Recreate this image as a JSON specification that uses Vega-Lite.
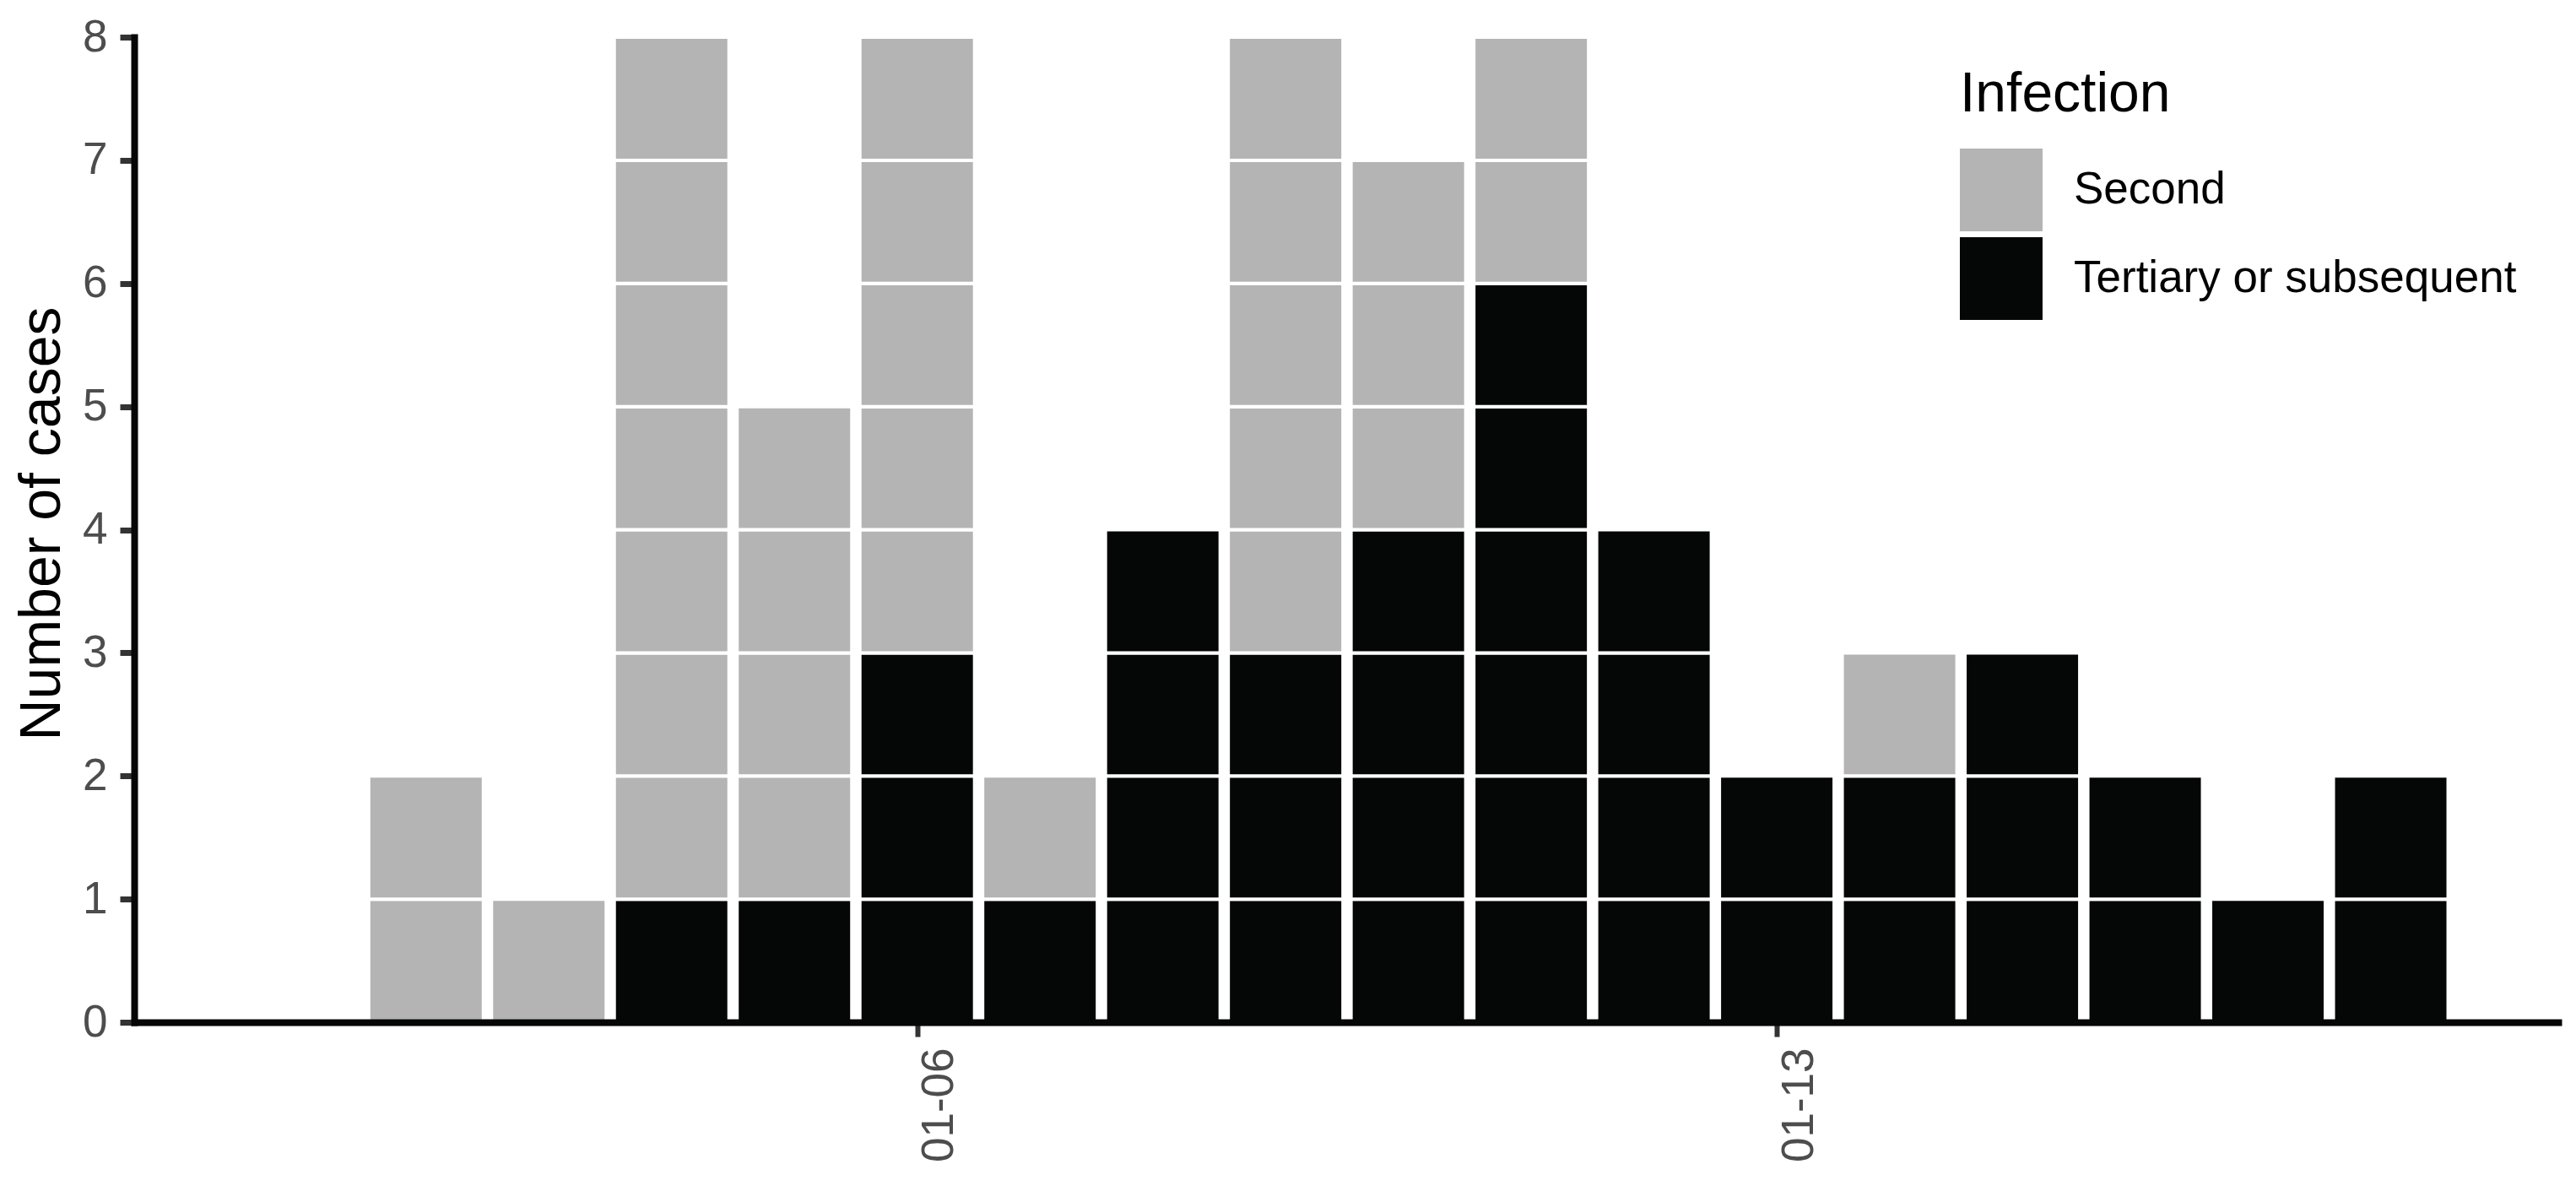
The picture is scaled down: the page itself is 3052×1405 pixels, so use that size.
{
  "$schema": "https://vega.github.io/schema/vega-lite/v6.json",
  "autosize": {"type": "none"},
  "padding": {"left": 159, "top": 44, "right": 21, "bottom": 194},
  "width": 2872,
  "height": 1167,
  "background": "white",
  "config": {
    "font": "Liberation Sans",
    "view": {"stroke": null},
    "axis": {"grid": false}
  },
  "data": {
    "values": [
      {"date": "2020-01-02", "infection": "Second", "n": 1},
      {"date": "2020-01-02", "infection": "Second", "n": 1},
      {"date": "2020-01-03", "infection": "Second", "n": 1},
      {"date": "2020-01-04", "infection": "Tertiary or subsequent", "n": 1},
      {"date": "2020-01-04", "infection": "Second", "n": 1},
      {"date": "2020-01-04", "infection": "Second", "n": 1},
      {"date": "2020-01-04", "infection": "Second", "n": 1},
      {"date": "2020-01-04", "infection": "Second", "n": 1},
      {"date": "2020-01-04", "infection": "Second", "n": 1},
      {"date": "2020-01-04", "infection": "Second", "n": 1},
      {"date": "2020-01-04", "infection": "Second", "n": 1},
      {"date": "2020-01-05", "infection": "Tertiary or subsequent", "n": 1},
      {"date": "2020-01-05", "infection": "Second", "n": 1},
      {"date": "2020-01-05", "infection": "Second", "n": 1},
      {"date": "2020-01-05", "infection": "Second", "n": 1},
      {"date": "2020-01-05", "infection": "Second", "n": 1},
      {"date": "2020-01-06", "infection": "Tertiary or subsequent", "n": 1},
      {"date": "2020-01-06", "infection": "Tertiary or subsequent", "n": 1},
      {"date": "2020-01-06", "infection": "Tertiary or subsequent", "n": 1},
      {"date": "2020-01-06", "infection": "Second", "n": 1},
      {"date": "2020-01-06", "infection": "Second", "n": 1},
      {"date": "2020-01-06", "infection": "Second", "n": 1},
      {"date": "2020-01-06", "infection": "Second", "n": 1},
      {"date": "2020-01-06", "infection": "Second", "n": 1},
      {"date": "2020-01-07", "infection": "Tertiary or subsequent", "n": 1},
      {"date": "2020-01-07", "infection": "Second", "n": 1},
      {"date": "2020-01-08", "infection": "Tertiary or subsequent", "n": 1},
      {"date": "2020-01-08", "infection": "Tertiary or subsequent", "n": 1},
      {"date": "2020-01-08", "infection": "Tertiary or subsequent", "n": 1},
      {"date": "2020-01-08", "infection": "Tertiary or subsequent", "n": 1},
      {"date": "2020-01-09", "infection": "Tertiary or subsequent", "n": 1},
      {"date": "2020-01-09", "infection": "Tertiary or subsequent", "n": 1},
      {"date": "2020-01-09", "infection": "Tertiary or subsequent", "n": 1},
      {"date": "2020-01-09", "infection": "Second", "n": 1},
      {"date": "2020-01-09", "infection": "Second", "n": 1},
      {"date": "2020-01-09", "infection": "Second", "n": 1},
      {"date": "2020-01-09", "infection": "Second", "n": 1},
      {"date": "2020-01-09", "infection": "Second", "n": 1},
      {"date": "2020-01-10", "infection": "Tertiary or subsequent", "n": 1},
      {"date": "2020-01-10", "infection": "Tertiary or subsequent", "n": 1},
      {"date": "2020-01-10", "infection": "Tertiary or subsequent", "n": 1},
      {"date": "2020-01-10", "infection": "Tertiary or subsequent", "n": 1},
      {"date": "2020-01-10", "infection": "Second", "n": 1},
      {"date": "2020-01-10", "infection": "Second", "n": 1},
      {"date": "2020-01-10", "infection": "Second", "n": 1},
      {"date": "2020-01-11", "infection": "Tertiary or subsequent", "n": 1},
      {"date": "2020-01-11", "infection": "Tertiary or subsequent", "n": 1},
      {"date": "2020-01-11", "infection": "Tertiary or subsequent", "n": 1},
      {"date": "2020-01-11", "infection": "Tertiary or subsequent", "n": 1},
      {"date": "2020-01-11", "infection": "Tertiary or subsequent", "n": 1},
      {"date": "2020-01-11", "infection": "Tertiary or subsequent", "n": 1},
      {"date": "2020-01-11", "infection": "Second", "n": 1},
      {"date": "2020-01-11", "infection": "Second", "n": 1},
      {"date": "2020-01-12", "infection": "Tertiary or subsequent", "n": 1},
      {"date": "2020-01-12", "infection": "Tertiary or subsequent", "n": 1},
      {"date": "2020-01-12", "infection": "Tertiary or subsequent", "n": 1},
      {"date": "2020-01-12", "infection": "Tertiary or subsequent", "n": 1},
      {"date": "2020-01-13", "infection": "Tertiary or subsequent", "n": 1},
      {"date": "2020-01-13", "infection": "Tertiary or subsequent", "n": 1},
      {"date": "2020-01-14", "infection": "Tertiary or subsequent", "n": 1},
      {"date": "2020-01-14", "infection": "Tertiary or subsequent", "n": 1},
      {"date": "2020-01-14", "infection": "Second", "n": 1},
      {"date": "2020-01-15", "infection": "Tertiary or subsequent", "n": 1},
      {"date": "2020-01-15", "infection": "Tertiary or subsequent", "n": 1},
      {"date": "2020-01-15", "infection": "Tertiary or subsequent", "n": 1},
      {"date": "2020-01-16", "infection": "Tertiary or subsequent", "n": 1},
      {"date": "2020-01-16", "infection": "Tertiary or subsequent", "n": 1},
      {"date": "2020-01-17", "infection": "Tertiary or subsequent", "n": 1},
      {"date": "2020-01-18", "infection": "Tertiary or subsequent", "n": 1},
      {"date": "2020-01-18", "infection": "Tertiary or subsequent", "n": 1}
    ]
  },
  "mark": {"type": "bar", "width": 136, "stroke": "white", "strokeWidth": 4},
  "encoding": {
    "x": {
      "field": "date",
      "type": "temporal",
      "scale": {
        "type": "utc",
        "domain": [
          {"year": 2019, "month": 12, "date": 30, "hours": 15, "minutes": 47, "utc": true},
          {"year": 2020, "month": 1, "date": 19, "hours": 7, "minutes": 55, "utc": true}
        ]
      },
      "axis": {
        "title": null,
        "zindex": 1,
        "values": [
          {"year": 2020, "month": 1, "date": 6, "utc": true},
          {"year": 2020, "month": 1, "date": 13, "utc": true}
        ],
        "format": "%m-%d",
        "labelAngle": -90,
        "labelAlign": "right",
        "labelBaseline": "top",
        "labelDx": -12,
        "labelFontSize": 53,
        "labelColor": "#4d4d4d",
        "labelPadding": 13,
        "labelFlush": false,
        "labelOverlap": false,
        "tickSize": 17,
        "tickWidth": 6,
        "tickColor": "#333333",
        "domainColor": "#050706",
        "domainWidth": 8,
        "domainCap": "square"
      }
    },
    "y": {
      "field": "n",
      "type": "quantitative",
      "stack": "zero",
      "scale": {"domain": [0, 8], "nice": false},
      "axis": {
        "title": "Number of cases",
        "zindex": 1,
        "values": [0, 1, 2, 3, 4, 5, 6, 7, 8],
        "labelFontSize": 53,
        "labelColor": "#4d4d4d",
        "labelPadding": 15,
        "labelFlush": false,
        "labelOverlap": false,
        "tickSize": 17,
        "tickWidth": 7,
        "tickColor": "#333333",
        "domainColor": "#050706",
        "domainWidth": 8,
        "domainCap": "square",
        "titleFontSize": 68,
        "titleFontWeight": "normal",
        "titleColor": "black",
        "titleAngle": -90,
        "titleX": -89,
        "titleY": 576,
        "titleAlign": "center",
        "titleBaseline": "alphabetic"
      }
    },
    "color": {
      "field": "infection",
      "type": "nominal",
      "scale": {
        "domain": ["Second", "Tertiary or subsequent"],
        "range": ["#b4b4b5", "#050706"]
      },
      "legend": {
        "title": "Infection",
        "orient": "none",
        "legendX": 2163,
        "legendY": 36,
        "padding": 0,
        "titleFontSize": 66,
        "titleFontWeight": "normal",
        "titleColor": "black",
        "titlePadding": 30,
        "titleLimit": 1000,
        "symbolType": "square",
        "symbolSize": 9604,
        "symbolStrokeWidth": 0,
        "symbolOpacity": 1,
        "rowPadding": 7,
        "labelFontSize": 53,
        "labelColor": "black",
        "labelOffset": 37,
        "labelLimit": 1000
      }
    },
    "order": {"field": "infection", "sort": "descending"}
  }
}
